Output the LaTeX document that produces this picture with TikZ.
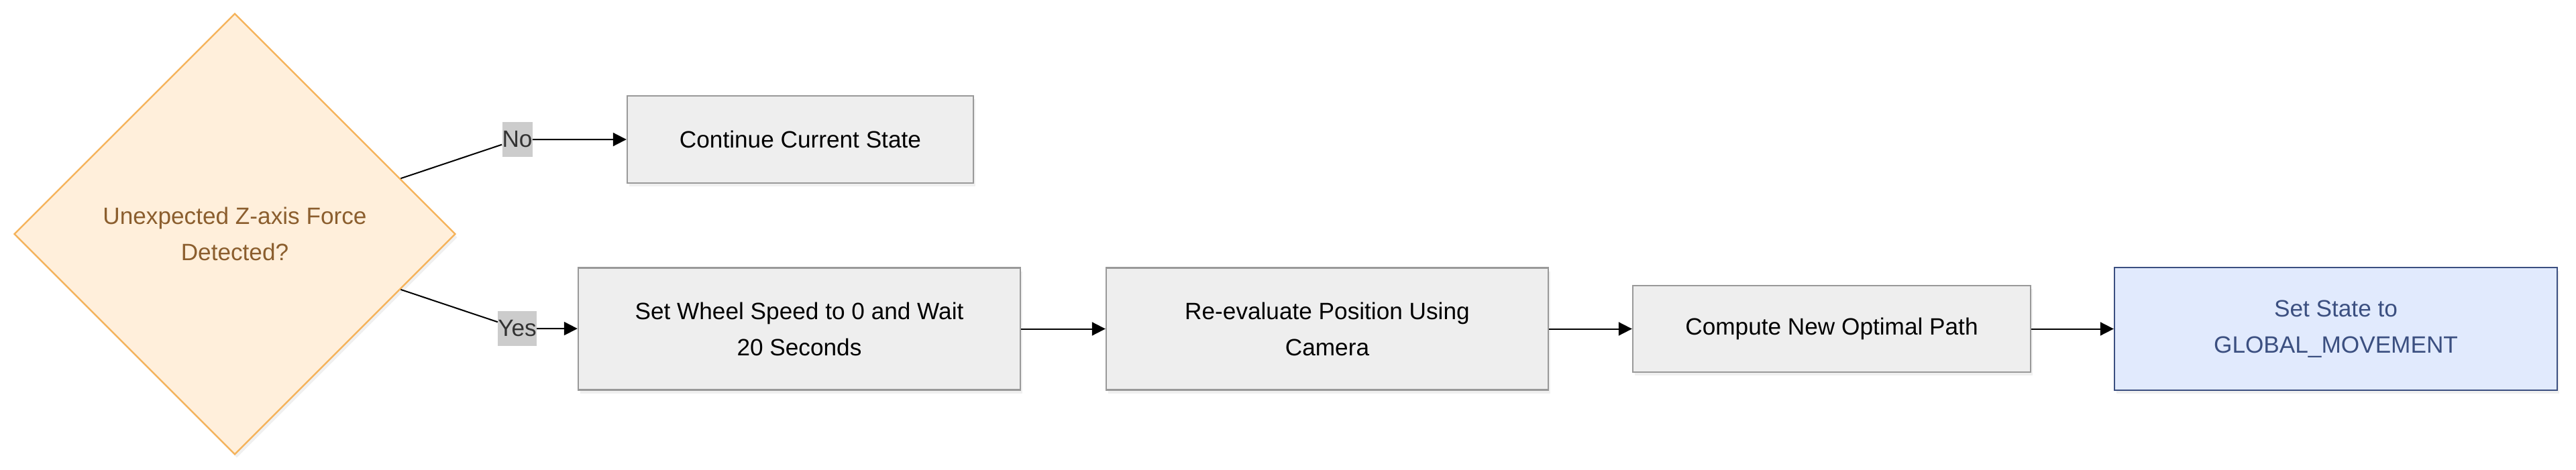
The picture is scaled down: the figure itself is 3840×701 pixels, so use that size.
\documentclass[tikz,border=0pt]{standalone}
\usepackage{fontspec}
\setmainfont{Liberation Sans}
\usetikzlibrary{shapes.geometric,arrows.meta,shadows}

\definecolor{decfill}{HTML}{FFEFDB}
\definecolor{decline}{HTML}{F5B259}
\definecolor{dectext}{HTML}{8B5E2E}
\definecolor{boxfill}{HTML}{EEEEEE}
\definecolor{boxline}{HTML}{999999}
\definecolor{labfill}{HTML}{CCCCCC}
\definecolor{labtext}{HTML}{333333}
\definecolor{endfill}{HTML}{E1EAFD}
\definecolor{endline}{HTML}{3B4F80}

\tikzset{
  x=0.5pt, y=-0.5pt,
  txt/.style={font=\fontsize{17.6}{27}\selectfont, align=center},
  softshadow/.style={drop shadow={opacity=0.12, shadow xshift=1.5pt, shadow yshift=-2.5pt}},
  procbox/.style={txt, rectangle, draw=boxline, fill=boxfill, line width=1.2pt, inner sep=0pt, softshadow},
  endbox/.style={procbox, draw=endline, fill=endfill, text=endline},
  decbox/.style={txt, diamond, draw=decline, fill=decfill, text=dectext, line width=1.2pt, inner sep=0pt, softshadow},
  edgelab/.style={txt, fill=labfill, text=labtext, inner xsep=0pt, inner ysep=0pt, minimum height=26pt},
  flow/.style={line width=1pt, -{Triangle[length=10pt, width=10pt]}}
}

\begin{document}
\begin{tikzpicture}
  \useasboundingbox (0,0) rectangle (3840,701);

  \node[decbox, minimum width=329pt, minimum height=329pt] (force) at (350,349) {Unexpected Z-axis Force\\Detected?};

  \node[procbox, minimum width=258pt, minimum height=65pt] (cont) at (1193,208) {Continue Current State};
  \node[procbox, minimum width=329.5pt, minimum height=91pt] (halt) at (1191.5,490.5) {Set Wheel Speed to 0 and Wait\\20 Seconds};
  \node[procbox, minimum width=329.5pt, minimum height=91pt] (reeval) at (1978.5,490.5) {Re-evaluate Position Using\\Camera};
  \node[procbox, minimum width=296.5pt, minimum height=64.5pt] (newpath) at (2730.5,490.5) {Compute New Optimal Path};
  \node[endbox, minimum width=330pt, minimum height=91.5pt] (global) at (3482,490.5) {Set State to\\GLOBAL\_MOVEMENT};

  \node[edgelab] (no) at (771,208) {No};
  \node[edgelab] (yes) at (771,490) {Yes};

  \draw[flow] (force) -- (no) -- (cont);
  \draw[flow] (force) -- (yes) -- (halt);
  \draw[flow] (halt) -- (reeval);
  \draw[flow] (reeval) -- (newpath);
  \draw[flow] (newpath) -- (global);
\end{tikzpicture}
\end{document}
